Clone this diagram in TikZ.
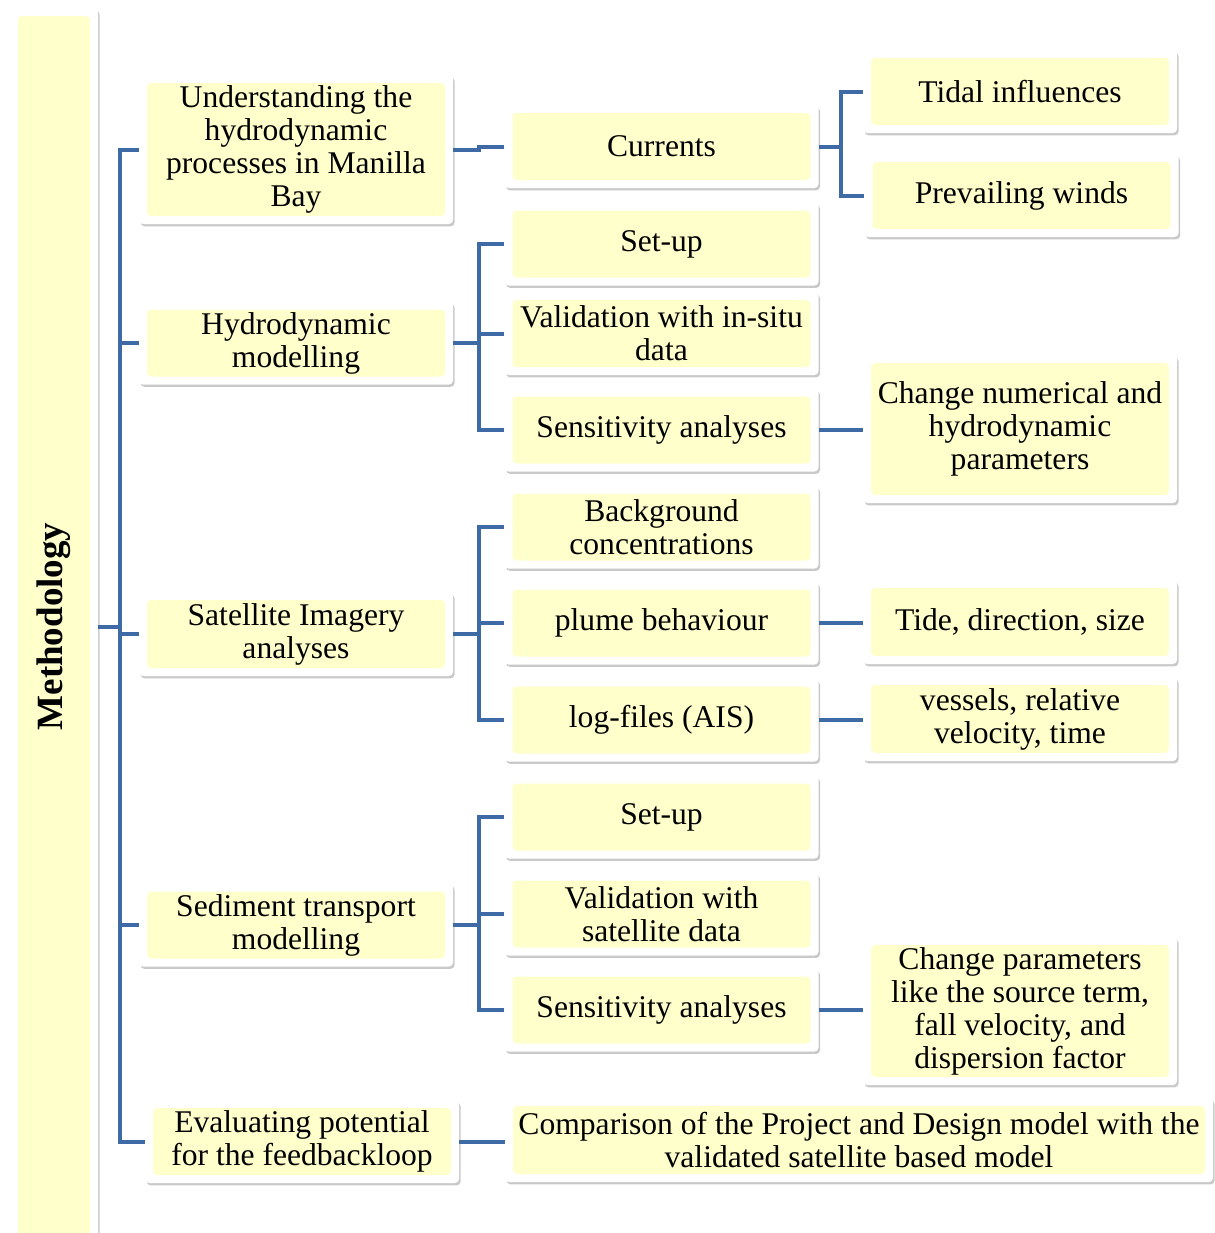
\documentclass[tikz,border=0pt]{standalone}
\usepackage{fontspec}
\setmainfont{Liberation Serif}
\usetikzlibrary{shadows}
\definecolor{boxyellow}{RGB}{255,255,204}
\definecolor{linkblue}{RGB}{62,106,165}
\newcommand{\boxfont}{\fontsize{15.8pt}{16.5pt}\selectfont}
\tikzset{
    box/.style={
        rectangle, rounded corners=2pt, fill=white,
        minimum width=157pt, minimum height=41.5pt,
        inner sep=0pt, align=center, font=\boxfont,
        drop shadow={shadow xshift=0.8pt, shadow yshift=-1.2pt, opacity=0.3, fill=black!70},
        path picture={
            \fill[boxyellow] ([shift={(4pt,4pt)}]path picture bounding box.south west)
                rectangle ([shift={(-4pt,-4pt)}]path picture bounding box.north east);
        }
    },
    tallbox/.style={box, minimum height=74pt},
    link/.style={draw=linkblue, line width=2pt},
}

\begin{document}
\begin{tikzpicture}[x=0.5pt, y=-0.5pt]
    \useasboundingbox (0,0) rectangle (1215,1233);
    \coordinate (trunk) at (120,0);
    \coordinate (forka) at (479,0);
    \coordinate (forkb) at (841,0);

    % root
    \node[box, minimum width=44pt, minimum height=618.5pt, font=\fontsize{18.5pt}{20pt}\selectfont]
        (meth) at (54,626.5) {\rotatebox{90}{\bfseries Methodology}};

    % first level
    \node[tallbox, minimum height=74.5pt] (und) at (296,149.5) {Understanding the\\hydrodynamic\\processes in Manilla\\Bay};
    \node[box] (hyd) at (296,343) {Hydrodynamic\\modelling};
    \node[box, minimum height=42pt] (sat) at (296,634) {Satellite Imagery\\analyses};
    \node[box] (sed) at (296,925) {Sediment transport\\modelling};
    \node[box] (eva) at (302,1141.5) {Evaluating potential\\for the feedbackloop};

    % second level
    \node[box] (cur) at (661.5,146.5) {Currents};
    \node[box] (setA) at (661.5,244) {Set-up};
    \node[box] (valA) at (661.5,333.5) {Validation with in-situ\\data};
    \node[box] (senA) at (661.5,430) {Sensitivity analyses};
    \node[box] (bac) at (661.5,527) {Background\\concentrations};
    \node[box] (plu) at (661.5,623) {plume behaviour};
    \node[box] (log) at (661.5,720) {log-files (AIS)};
    \node[box] (setB) at (661.5,817) {Set-up};
    \node[box] (valB) at (661.5,914) {Validation with\\satellite data};
    \node[box] (senB) at (661.5,1010) {Sensitivity analyses};
    \node[box, minimum width=354pt, minimum height=42pt] (com) at (859,1140)
        {Comparison of the Project and Design model with the\\validated satellite based model};

    % third level
    \node[box] (tid) at (1020,91.5) {Tidal influences};
    \node[box] (pre) at (1021.5,195.5) {Prevailing winds};
    \node[tallbox] (chn) at (1020,429) {Change numerical and\\hydrodynamic\\parameters};
    \node[box, minimum height=42pt] (tds) at (1020,622) {Tide, direction, size};
    \node[box, minimum height=42pt] (ves) at (1020,719) {vessels, relative\\velocity, time};
    \node[tallbox] (chp) at (1020,1011) {Change parameters\\like the source term,\\fall velocity, and\\dispersion factor};

    % trunk
    \draw[link] (meth.east) -- (meth -| trunk);
    \draw[link] (und.west) -| (trunk |- eva) -- (eva.west);
    \draw[link] (hyd.west) -- (hyd -| trunk);
    \draw[link] (sat.west) -- (sat -| trunk);
    \draw[link] (sed.west) -- (sed -| trunk);

    % forks
    \draw[link] (und.east) -- ++(26,0) |- (cur.west);
    \draw[link] (cur.east) -- (cur -| forkb);
    \draw[link] (tid.west) -| (forkb |- pre) -- (pre.west);

    \draw[link] (hyd.east) -- (hyd -| forka);
    \draw[link] (setA.west) -| (forka |- senA) -- (senA.west);
    \draw[link] (valA.west) -- (valA -| forka);
    \draw[link] (senA.east) -- (senA.east -| chn.west);

    \draw[link] (sat.east) -- (sat -| forka);
    \draw[link] (bac.west) -| (forka |- log) -- (log.west);
    \draw[link] (plu.west) -- (plu -| forka);
    \draw[link] (plu.east) -- (plu.east -| tds.west);
    \draw[link] (log.east) -- (log.east -| ves.west);

    \draw[link] (sed.east) -- (sed -| forka);
    \draw[link] (setB.west) -| (forka |- senB) -- (senB.west);
    \draw[link] (valB.west) -- (valB -| forka);
    \draw[link] (senB.east) -- (senB.east -| chp.west);

    \draw[link] (eva.east) -- (eva.east -| com.west);
\end{tikzpicture}
\end{document}
